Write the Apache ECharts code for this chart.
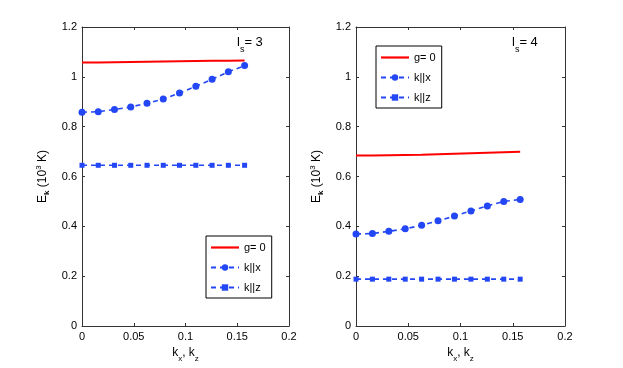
<!DOCTYPE html>
<html>
<head>
<meta charset="utf-8">
<script src="https://cdn.jsdelivr.net/npm/echarts@6/dist/echarts.min.js"></script>
<style>
  html, body { margin: 0; padding: 0; background: #fff; }
  #chart { width: 623px; height: 368px; }
</style>
</head>
<body>
<div id="chart"></div>
<script>
// k values (same grid for both panels)
var kValues = [0, 0.0157, 0.0314, 0.0471, 0.0628, 0.0785, 0.0942, 0.1100, 0.1257, 0.1414, 0.1571];

// l_s = 3 (left panel)
var g0Ls3 = [1.058, 1.058, 1.059, 1.060, 1.061, 1.062, 1.063, 1.064, 1.065, 1.065, 1.066];
var kxLs3 = [0.858, 0.860, 0.869, 0.879, 0.894, 0.911, 0.935, 0.962, 0.990, 1.020, 1.045];
var kzLs3 = [0.645, 0.645, 0.645, 0.645, 0.645, 0.645, 0.645, 0.645, 0.645, 0.645, 0.645];

// l_s = 4 (right panel)
var g0Ls4 = [0.684, 0.684, 0.685, 0.686, 0.687, 0.689, 0.691, 0.693, 0.695, 0.697, 0.699];
var kxLs4 = [0.369, 0.371, 0.380, 0.390, 0.404, 0.422, 0.441, 0.462, 0.482, 0.500, 0.508];
var kzLs4 = [0.188, 0.188, 0.188, 0.188, 0.188, 0.188, 0.188, 0.188, 0.188, 0.188, 0.188];

var xTicks = [0, 0.05, 0.1, 0.15, 0.2];
var yTicks = [0, 0.2, 0.4, 0.6, 0.8, 1, 1.2];
var legendNames = ['g= 0', 'k||x', 'k||z'];

var FONT = 'Liberation Sans, Arial, sans-serif';
var RED = '#ff0000';
var BLUE = '#2347f5';
var AXIS = '#333';

function pairs(ys) {
    return kValues.map(function (k, i) { return [k, ys[i]]; });
}

var myChart = echarts.init(document.getElementById('chart'));

function xAx(gi, pos) {
    var bottom = pos === 'bottom';
    return {
        type: 'value', gridIndex: gi, position: pos,
        min: xTicks[0], max: xTicks[xTicks.length - 1], interval: 0.05,
        axisLine: { show: true, onZero: false, lineStyle: { color: AXIS, width: 1 } },
        axisTick: { show: true, inside: true, length: 3, lineStyle: { color: AXIS } },
        axisLabel: { show: bottom, color: '#000', fontSize: 11, fontFamily: FONT, margin: 5 },
        splitLine: { show: false },
        name: bottom ? '{n|k}{sub|x}{n|, k}{sub|z}' : '',
        nameLocation: 'middle', nameGap: 15,
        nameTextStyle: {
            fontFamily: FONT,
            rich: {
                n: { fontSize: 12, color: '#000', fontFamily: FONT, lineHeight: 16, verticalAlign: 'top' },
                sub: { fontSize: 8, color: '#000', fontFamily: FONT, lineHeight: 16, verticalAlign: 'bottom' }
            }
        }
    };
}

function yAx(gi, pos) {
    var left = pos === 'left';
    return {
        type: 'value', gridIndex: gi, position: pos,
        min: yTicks[0], max: yTicks[yTicks.length - 1], interval: 0.2,
        axisLine: { show: true, onZero: false, lineStyle: { color: AXIS, width: 1 } },
        axisTick: { show: true, inside: true, length: 3, lineStyle: { color: AXIS } },
        axisLabel: { show: left, color: '#000', fontSize: 11, fontFamily: FONT, margin: 5 },
        splitLine: { show: false },
        name: left ? '{n|E}{sub|k}{n| (10}{sup|3}{n| K)}' : '',
        nameLocation: 'middle', nameGap: 31,
        nameTextStyle: {
            fontFamily: FONT,
            rich: {
                n: { fontSize: 12, color: '#000', fontFamily: FONT, lineHeight: 16 },
                sub: { fontSize: 8, color: '#000', fontWeight: 'bold', fontFamily: FONT, lineHeight: 16, verticalAlign: 'bottom' },
                sup: { fontSize: 8, color: '#000', fontFamily: FONT, lineHeight: 16, verticalAlign: 'top' }
            }
        }
    };
}

function seriesFor(gi, g0, kx, kz) {
    return [{
        name: legendNames[0], type: 'line', xAxisIndex: gi * 2, yAxisIndex: gi * 2,
        data: pairs(g0), showSymbol: false, symbol: 'none',
        lineStyle: { color: RED, width: 2 }, itemStyle: { color: RED },
        animation: false
    }, {
        name: legendNames[1], type: 'line', xAxisIndex: gi * 2, yAxisIndex: gi * 2,
        data: pairs(kx), symbol: 'circle', symbolSize: 7,
        lineStyle: { color: BLUE, width: 1.6, type: [5, 4] }, itemStyle: { color: BLUE },
        animation: false
    }, {
        name: legendNames[2], type: 'line', xAxisIndex: gi * 2, yAxisIndex: gi * 2,
        data: pairs(kz), symbol: 'rect', symbolSize: 5,
        lineStyle: { color: BLUE, width: 1.6, type: [5, 4] }, itemStyle: { color: BLUE },
        animation: false
    }];
}

function legendAt(left, top) {
    return {
        left: left, top: top, orient: 'vertical',
        data: [
            // solid red line, no marker
            { name: legendNames[0], icon: 'path://M0,0 L28,0 L28,2.2 L0,2.2 Z' },
            legendNames[1],
            legendNames[2]
        ],
        itemWidth: 28, itemHeight: 8, itemGap: 9,
        padding: [6, 6, 5, 4],
        borderColor: '#000', borderWidth: 1, backgroundColor: '#fff',
        textStyle: { fontSize: 11, color: '#000', fontFamily: FONT },
        selectedMode: false
    };
}

function lsLabel(x, y, n) {
    return {
        type: 'text', left: x, top: y,
        style: {
            text: '{n|l}{sub|s}{n|= ' + n + '}',
            rich: {
                n: { fontSize: 13, fill: '#000', fontFamily: FONT, lineHeight: 18, verticalAlign: 'top' },
                sub: { fontSize: 9, fill: '#000', fontFamily: FONT, lineHeight: 18, verticalAlign: 'bottom' }
            }
        }
    };
}

myChart.setOption({
    backgroundColor: '#fff',
    animation: false,
    grid: [
        { left: 82, top: 27, width: 207, height: 299 },
        { left: 356, top: 27, width: 209, height: 299 }
    ],
    xAxis: [xAx(0, 'bottom'), xAx(0, 'top'), xAx(1, 'bottom'), xAx(1, 'top')],
    yAxis: [yAx(0, 'left'), yAx(0, 'right'), yAx(1, 'left'), yAx(1, 'right')],
    legend: [legendAt(206, 236), legendAt(376, 46)],
    graphic: [lsLabel(237, 36, 3), lsLabel(512, 36, 4)],
    series: seriesFor(0, g0Ls3, kxLs3, kzLs3).concat(seriesFor(1, g0Ls4, kxLs4, kzLs4))
});
</script>
</body>
</html>
